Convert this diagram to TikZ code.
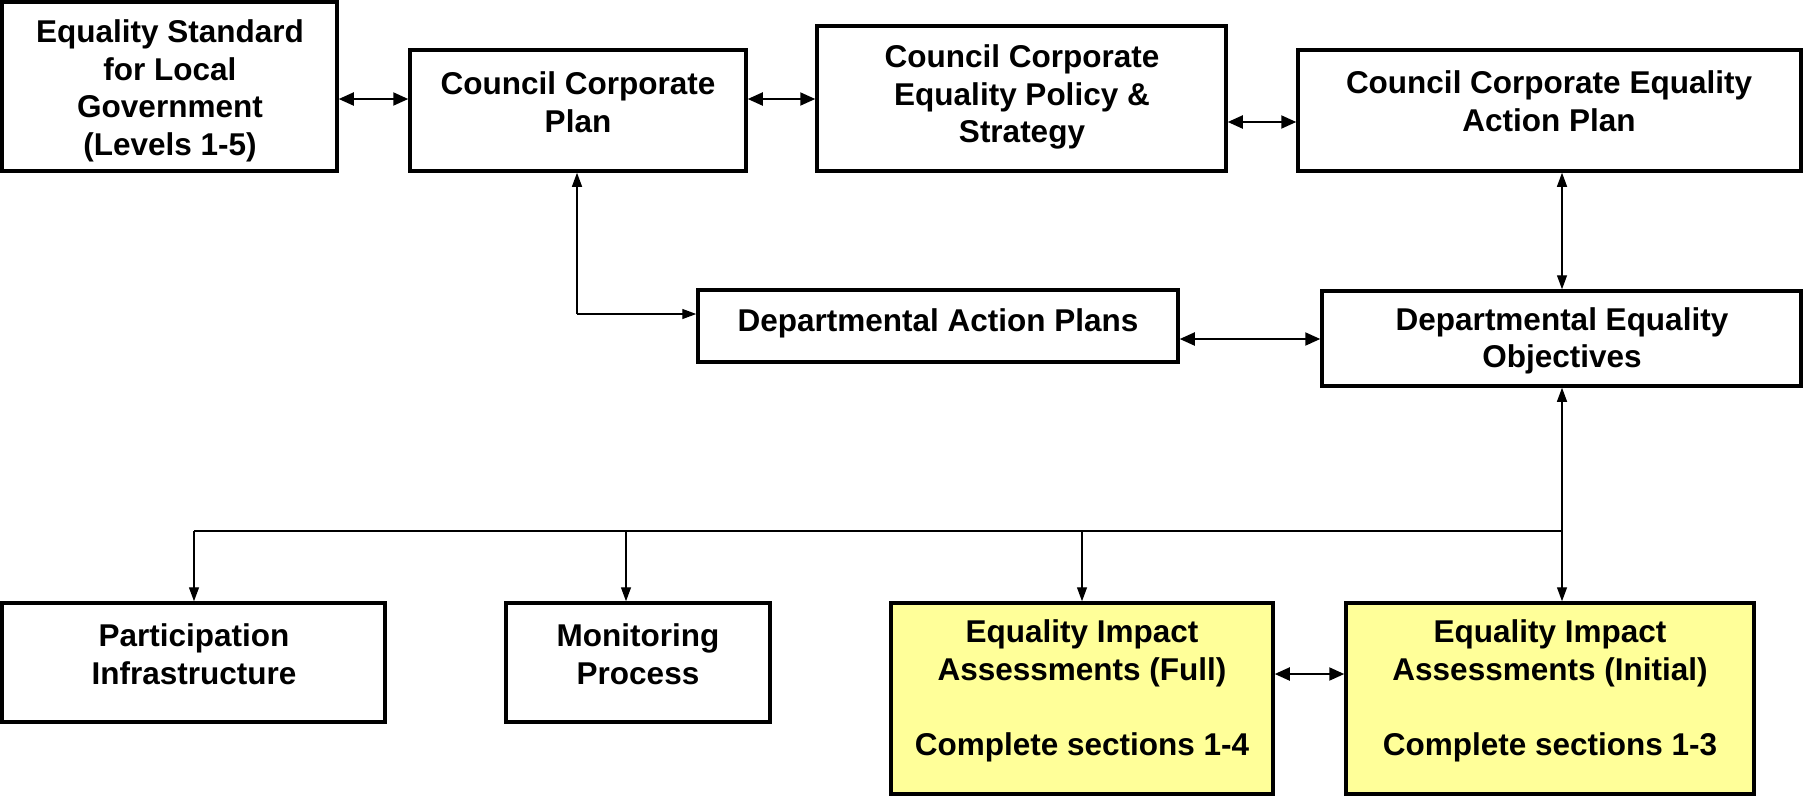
\documentclass[tikz,border=0pt]{standalone}
\usepackage{fontspec}
\setmainfont{Liberation Sans}
\usetikzlibrary{arrows.meta}
\definecolor{eiayellow}{HTML}{FFFF99}
\tikzset{
  box/.style={draw=black, line width=3.5pt, fill=white},
  ybox/.style={draw=black, line width=3.5pt, fill=eiayellow},
  txt/.style={align=center, inner sep=0pt, font=\fontsize{31.5}{37.5}\selectfont\bfseries},
  conn/.style={line width=1.3pt},
  tip/.style={-{Triangle[length=14pt,width=10pt]}},
  dtip/.style={{Triangle[length=15pt,width=13pt]}-{Triangle[length=15pt,width=13pt]}, line width=2pt},
}
\begin{document}
\begin{tikzpicture}[x=1pt,y=-1pt]
\useasboundingbox (0,0) rectangle (1803,796);
% boxes
\node[box, minimum width=335pt, minimum height=169pt] (B1) at (169.5,86.5) {};
\node[box, minimum width=336pt, minimum height=121pt] (B2) at (578,110.5) {};
\node[box, minimum width=409pt, minimum height=145pt] (B3) at (1021.5,98.5) {};
\node[box, minimum width=503pt, minimum height=121pt] (B4) at (1549.5,110.5) {};
\node[box, minimum width=480pt, minimum height=72pt] (B5) at (938,326) {};
\node[box, minimum width=479pt, minimum height=95pt] (B6) at (1561.5,338.5) {};
\node[box, minimum width=383pt, minimum height=119pt] (B7) at (193.5,662.5) {};
\node[box, minimum width=264pt, minimum height=119pt] (B8) at (638,662.5) {};
\node[ybox, minimum width=382pt, minimum height=191pt] (B9) at (1082,698.5) {};
\node[ybox, minimum width=408pt, minimum height=191pt] (B10) at (1550,698.5) {};
% texts
\node[txt] (T1) at (170,91) {Equality Standard\\for Local\\Government\\(Levels 1-5)};
\node[txt] (T2) at (578,102) {Council Corporate\\Plan};
\node[txt] (T3) at (1022,97) {Council Corporate\\Equality Policy \&\\Strategy};
\node[txt] (T4) at (1549,101) {Council Corporate Equality\\Action Plan};
\node[txt] (T5) at (938,323) {Departmental Action Plans};
\node[txt] (T6) at (1562,341) {Departmental Equality\\Objectives};
\node[txt] (T7) at (194,654) {Participation\\Infrastructure};
\node[txt] (T8) at (638,654) {Monitoring\\Process};
\node[txt] (T9) at (1082,691) {Equality Impact\\Assessments (Full)\\[37.5pt]Complete sections 1-4};
\node[txt] (T10) at (1550,691) {Equality Impact\\Assessments (Initial)\\[37.5pt]Complete sections 1-3};
% junction
\coordinate (J) at (1562,531);
\coordinate (JL) at (194,531);
\coordinate (E) at (577,314);
% connectors
\draw[dtip] (B1.east |- 0,99) -- (B2.west |- 0,99);
\draw[dtip] (B2.east |- 0,99) -- (B3.west |- 0,99);
\draw[dtip] (B3.east |- 0,122) -- (B4.west |- 0,122);
\draw[dtip] (B5.east |- 0,339) -- (B6.west |- 0,339);
\draw[dtip] (B9.east |- 0,674) -- (B10.west |- 0,674);
\draw[conn, tip] (E) -- (B2.south -| E);
\draw[conn, tip] (E) -- (B5.west |- E);
\draw[conn, {Triangle[length=14pt,width=10pt]}-{Triangle[length=14pt,width=10pt]}] (B4.south -| J) -- (B6.north -| J);
\draw[conn, tip] (J) -- (B6.south -| J);
\draw[conn] (JL) -- (J);
\draw[conn, tip] (JL) -- (B7.north -| JL);
\draw[conn, tip] (626,531) -- (B8.north -| 626,0);
\draw[conn, tip] (1082,531) -- (B9.north -| 1082,0);
\draw[conn, tip] (J) -- (B10.north -| J);
\end{tikzpicture}
\end{document}
